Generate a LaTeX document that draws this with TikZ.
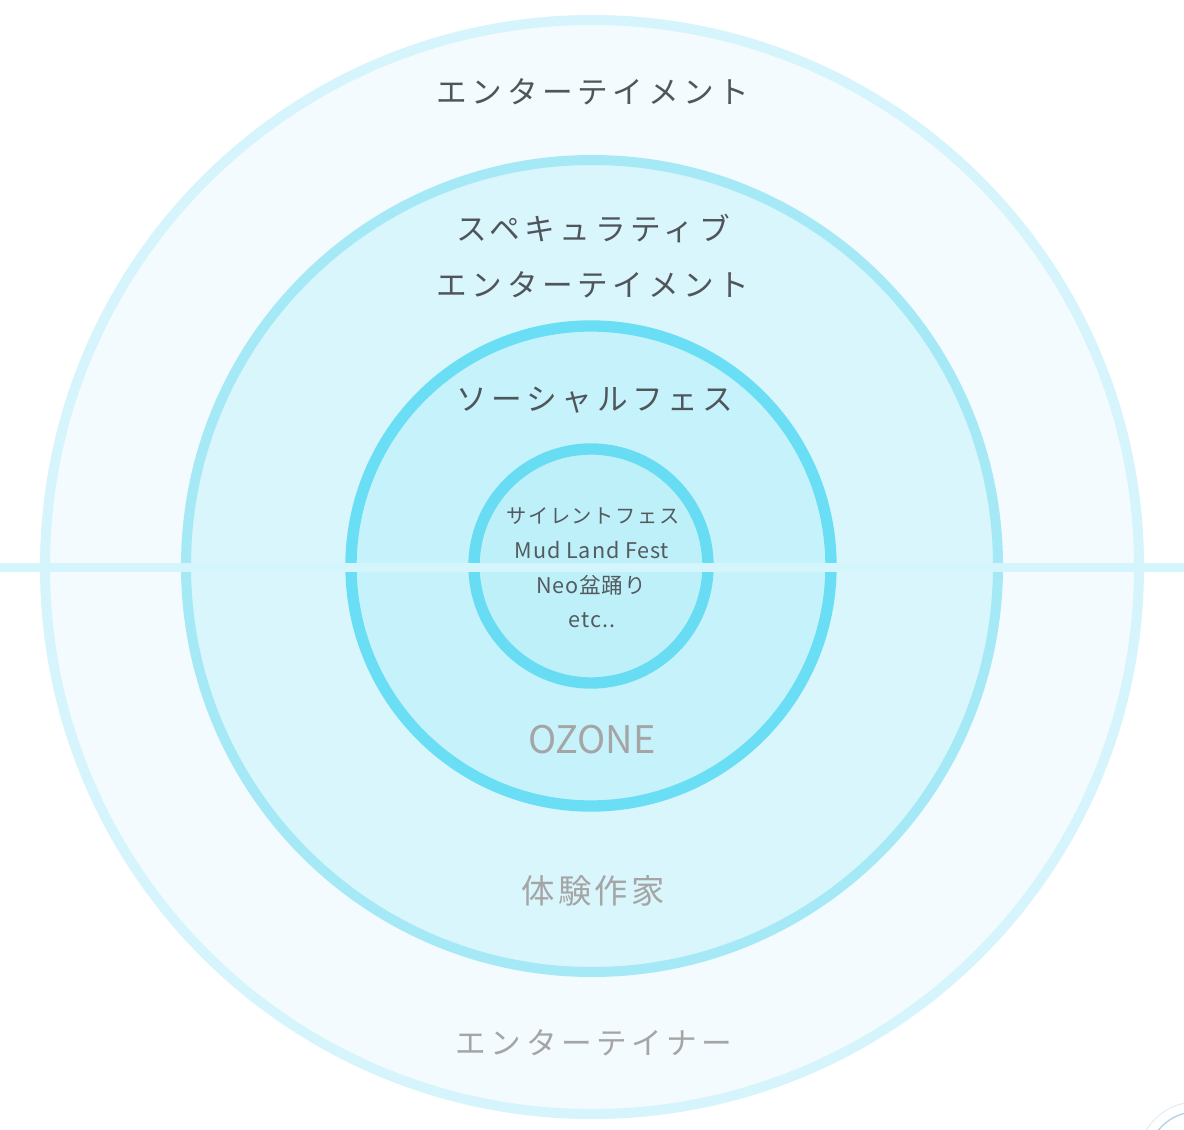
\documentclass[tikz,border=0pt]{standalone}
\usepackage{fontspec}
\setmainfont{Noto Sans CJK JP}
\newfontfamily\jpwide[LetterSpace=15]{Noto Sans CJK JP}
\newfontfamily\jpmid[LetterSpace=10]{Noto Sans CJK JP}
\newfontfamily\jpsmall[LetterSpace=8]{Noto Sans CJK JP}
\newfontfamily\latwide[LetterSpace=4]{Noto Sans CJK JP}
\usepackage{xcolor}

\begin{document}
\begin{tikzpicture}[x=0.75pt,y=0.75pt,yscale=-1,xscale=1]
%set diagram left start at 0, and has height of 1130
\clip (0,0) rectangle (1184,1130);

%Shape: Circle [id:outer]
\draw [color={rgb, 255:red, 213; green, 244; blue, 251 }  ,draw opacity=1 ][fill={rgb, 255:red, 243; green, 251; blue, 254 }  ,fill opacity=1 ][line width=7.5]  (592,567) circle (547) ;
%Shape: Circle [id:second]
\draw [color={rgb, 255:red, 165; green, 233; blue, 247 }  ,draw opacity=1 ][fill={rgb, 255:red, 216; green, 246; blue, 252 }  ,fill opacity=1 ][line width=7.5]  (592,566) circle (406) ;
%Shape: Circle [id:third]
\draw [color={rgb, 255:red, 106; green, 222; blue, 244 }  ,draw opacity=1 ][fill={rgb, 255:red, 198; green, 243; blue, 251 }  ,fill opacity=1 ][line width=8.5]  (591,566) circle (240) ;
%Shape: Circle [id:inner]
\draw [color={rgb, 255:red, 104; green, 220; blue, 243 }  ,draw opacity=1 ][fill={rgb, 255:red, 190; green, 240; blue, 250 }  ,fill opacity=1 ][line width=8.5]  (591,566) circle (117) ;
%Straight Lines [id:axis]
\draw [color={rgb, 255:red, 213; green, 245; blue, 252 }  ,draw opacity=1 ][line width=6.75]    (0,567) -- (1184,567) ;
%Curve Lines [id:corner]
\draw [color={rgb, 255:red, 222; green, 236; blue, 246 }  ,draw opacity=1 ][line width=0.75]  (1196,1160) circle (58) ;
\draw [color={rgb, 255:red, 178; green, 208; blue, 232 }  ,draw opacity=1 ][line width=1]  (1196,1160) circle (48) ;

% Text Node
\draw (593,92) node [anchor=center][inner sep=0.75pt]  [font=\jpwide\fontsize{23}{27}\selectfont,color={rgb, 255:red, 80; green, 85; blue, 90 }  ,opacity=1 ] (entTop) {エンターテイメント};
% Text Node
\draw (593,229) node [anchor=center][inner sep=0.75pt]  [font=\jpwide\fontsize{23}{27}\selectfont,color={rgb, 255:red, 80; green, 85; blue, 90 }  ,opacity=1 ] (specA) {スペキュラティブ};
% Text Node
\draw (593,285) node [anchor=center][inner sep=0.75pt]  [font=\jpwide\fontsize{23}{27}\selectfont,color={rgb, 255:red, 80; green, 85; blue, 90 }  ,opacity=1 ] (specB) {エンターテイメント};
% Text Node
\draw (595,400) node [anchor=center][inner sep=0.75pt]  [font=\jpwide\fontsize{23}{27}\selectfont,color={rgb, 255:red, 80; green, 85; blue, 90 }  ,opacity=1 ] (socFes) {ソーシャルフェス};
% Text Node
\draw (593,516) node [anchor=center][inner sep=0.75pt]  [font=\jpsmall\fontsize{15.2}{18}\selectfont,color={rgb, 255:red, 85; green, 90; blue, 95 }  ,opacity=1 ] (silent) {サイレントフェス};
% Text Node
\draw (592,550) node [anchor=center][inner sep=0.75pt]  [font=\latwide\fontsize{16.2}{19}\selectfont,color={rgb, 255:red, 85; green, 90; blue, 95 }  ,opacity=1 ] (mud) {Mud Land Fest};
% Text Node
\draw (591,585) node [anchor=center][inner sep=0.75pt]  [font=\latwide\fontsize{16.2}{19}\selectfont,color={rgb, 255:red, 85; green, 90; blue, 95 }  ,opacity=1 ] (neo) {Neo盆踊り};
% Text Node
\draw (592,620) node [anchor=center][inner sep=0.75pt]  [font=\latwide\fontsize{16.2}{19}\selectfont,color={rgb, 255:red, 85; green, 90; blue, 95 }  ,opacity=1 ] (etc) {etc..};
% Text Node
\draw (592,740) node [anchor=center][inner sep=0.75pt]  [font=\fontsize{28.5}{32}\selectfont,color={rgb, 255:red, 165; green, 165; blue, 165 }  ,opacity=1 ] (ozone) {OZONE};
% Text Node
\draw (593,891) node [anchor=center][inner sep=0.75pt]  [font=\jpmid\fontsize{25}{29}\selectfont,color={rgb, 255:red, 165; green, 165; blue, 165 }  ,opacity=1 ] (artist) {体験作家};
% Text Node
\draw (594,1043) node [anchor=center][inner sep=0.75pt]  [font=\jpwide\fontsize{23}{27}\selectfont,color={rgb, 255:red, 165; green, 165; blue, 165 }  ,opacity=1 ] (entertainer) {エンターテイナー};

\end{tikzpicture}
\end{document}
